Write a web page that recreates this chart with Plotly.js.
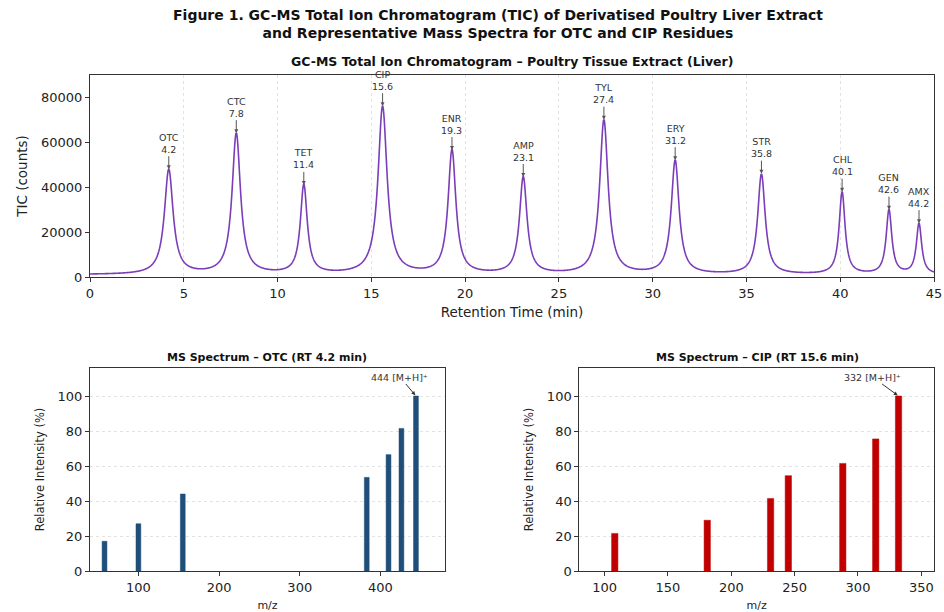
<!DOCTYPE html>
<html>
<head>
<meta charset="utf-8">
<script src="https://cdn.plot.ly/plotly-3.0.1.min.js"></script>
<style>html,body{margin:0;padding:0;background:#fff}#chart{width:944px;height:612px}</style>
</head>
<body>
<div id="chart"></div>
<script>
// ---- TIC peak table ----
var peakNames = ["OTC","CTC","TET","CIP","ENR","AMP","TYL","ERY","STR","CHL","GEN","AMX"];
var peakRT    = [4.2, 7.8, 11.4, 15.6, 19.3, 23.1, 27.4, 31.2, 35.8, 40.1, 42.6, 44.2];
var peakApex  = [47500, 63500, 40500, 75500, 56000, 44000, 69500, 51500, 45500, 37500, 29500, 23500];
var peakHalfWidth = [0.28, 0.27, 0.22, 0.29, 0.25, 0.24, 0.27, 0.25, 0.24, 0.19, 0.18, 0.17];
var baselineCounts = 1000;

// ---- MS spectrum OTC (RT 4.2 min) ----
var otcMz  = [58, 100, 155, 383, 410, 426, 444];
var otcInt = [17, 27, 44, 53.5, 66.5, 81.5, 100];

// ---- MS spectrum CIP (RT 15.6 min) ----
var cipMz  = [108, 181, 231, 245, 288, 314, 332];
var cipInt = [21.5, 29, 41.5, 54.5, 61.5, 75.5, 100];

// Build the TIC trace from the peak table (Lorentzian peak shape)
var ticX = [], ticY = [];
for (var t = 0; t <= 45.0001; t += 0.02) {
  var v = baselineCounts;
  for (var i = 0; i < peakRT.length; i++) {
    var d = (t - peakRT[i]) / peakHalfWidth[i];
    v += (peakApex[i] - baselineCounts) / (1 + d * d);
  }
  ticX.push(+t.toFixed(2)); ticY.push(v);
}

var W = 944, H = 612;
function px(x){ return x / W; }
function py(y){ return 1 - y / H; }

var FONT = "DejaVu Sans, Liberation Sans, sans-serif";
var axisCommon = {
  showline: true, linecolor: "#333", linewidth: 1, mirror: true,
  ticks: "outside", ticklen: 4, tickcolor: "#333", tickwidth: 1,
  tickfont: {family: FONT, size: 13, color: "#222"},
  zeroline: false
};
var GRID = "#e3e3e3";

var traces = [
  {x: ticX, y: ticY, type: "scatter", mode: "lines", xaxis: "x", yaxis: "y",
   line: {color: "#7B3DB8", width: 1.6, simplify: false}, hoverinfo: "skip", showlegend: false},
  {x: otcMz, y: otcInt, type: "bar", xaxis: "x2", yaxis: "y2", width: 6,
   marker: {color: "#1F4E79", line: {color: "#1F4E79", width: 0.5}}, showlegend: false},
  {x: cipMz, y: cipInt, type: "bar", xaxis: "x3", yaxis: "y3", width: 5,
   marker: {color: "#C00000", line: {color: "#C00000", width: 0.5}}, showlegend: false}
];

var annotations = [];
for (var i = 0; i < peakNames.length; i++) {
  annotations.push({
    x: peakRT[i], y: peakApex[i], xref: "x", yref: "y",
    text: peakNames[i] + "<br>" + peakRT[i].toFixed(1),
    showarrow: true, ax: 0, ay: -27, arrowhead: 2, arrowsize: 0.8, arrowwidth: 1,
    arrowcolor: "#555", standoff: 1,
    font: {family: FONT, size: 9.5, color: "#333"}
  });
}
annotations.push({
  x: otcMz[otcMz.length-1], y: otcInt[otcInt.length-1], xref: "x2", yref: "y2",
  text: otcMz[otcMz.length-1] + " [M+H]⁺", showarrow: true, ax: -16, ay: -19,
  arrowhead: 2, arrowsize: 0.8, arrowwidth: 1, arrowcolor: "#333", standoff: 1,
  font: {family: FONT, size: 9.5, color: "#333"}
});
annotations.push({
  x: cipMz[cipMz.length-1], y: cipInt[cipInt.length-1], xref: "x3", yref: "y3",
  text: cipMz[cipMz.length-1] + " [M+H]⁺", showarrow: true, ax: -26, ay: -19,
  arrowhead: 2, arrowsize: 0.8, arrowwidth: 1, arrowcolor: "#333", standoff: 1,
  font: {family: FONT, size: 9.5, color: "#333"}
});
// subplot titles
annotations.push({text: "<b>GC-MS Total Ion Chromatogram – Poultry Tissue Extract (Liver)</b>",
  xref: "paper", yref: "paper", x: px(512), y: py(62), xanchor: "center", yanchor: "middle",
  showarrow: false, font: {family: FONT, size: 12.5, color: "#111"}});
annotations.push({text: "<b>MS Spectrum – OTC (RT 4.2 min)</b>",
  xref: "paper", yref: "paper", x: px(267), y: py(357), xanchor: "center", yanchor: "middle",
  showarrow: false, font: {family: FONT, size: 11, color: "#111"}});
annotations.push({text: "<b>MS Spectrum – CIP (RT 15.6 min)</b>",
  xref: "paper", yref: "paper", x: px(757), y: py(357), xanchor: "center", yanchor: "middle",
  showarrow: false, font: {family: FONT, size: 11, color: "#111"}});

var layout = {
  width: W, height: H,
  margin: {l: 0, r: 0, t: 0, b: 0},
  paper_bgcolor: "#fff", plot_bgcolor: "#fff",
  showlegend: false,
  bargap: 0,
  title: {text: "<b>Figure 1. GC-MS Total Ion Chromatogram (TIC) of Derivatised Poultry Liver Extract<br>and Representative Mass Spectra for OTC and CIP Residues</b>",
    x: px(498), xanchor: "center", y: py(20), yanchor: "middle",
    font: {family: FONT, size: 14, color: "#111"}},
  xaxis: Object.assign({}, axisCommon, {
    domain: [px(90), px(934)], anchor: "y", range: [0, 45], dtick: 5,
    showgrid: true, gridcolor: GRID, griddash: "dot", gridwidth: 1,
    title: {text: "Retention Time (min)", font: {family: FONT, size: 13.5, color: "#222"}, standoff: 7}
  }),
  yaxis: Object.assign({}, axisCommon, {
    domain: [py(277), py(75)], anchor: "x", range: [0, 89800], dtick: 20000,
    tickformat: "d", showgrid: false,
    title: {text: "TIC (counts)", font: {family: FONT, size: 13.5, color: "#222"}, standoff: 10}
  }),
  xaxis2: Object.assign({}, axisCommon, {
    domain: [px(90), px(445)], anchor: "y2", range: [40, 480], dtick: 100,
    showgrid: false,
    title: {text: "m/z", font: {family: FONT, size: 11, color: "#222"}, standoff: 7}
  }),
  yaxis2: Object.assign({}, axisCommon, {
    domain: [py(571), py(368)], anchor: "x2", range: [0, 116], dtick: 20,
    showgrid: true, gridcolor: GRID, griddash: "dot", gridwidth: 1,
    title: {text: "Relative Intensity (%)", font: {family: FONT, size: 11.5, color: "#222"}, standoff: 10}
  }),
  xaxis3: Object.assign({}, axisCommon, {
    domain: [px(579.3), px(934)], anchor: "y3", range: [80, 360], dtick: 50,
    showgrid: false,
    title: {text: "m/z", font: {family: FONT, size: 11, color: "#222"}, standoff: 7}
  }),
  yaxis3: Object.assign({}, axisCommon, {
    domain: [py(571), py(368)], anchor: "x3", range: [0, 116], dtick: 20,
    showgrid: true, gridcolor: GRID, griddash: "dot", gridwidth: 1,
    title: {text: "Relative Intensity (%)", font: {family: FONT, size: 11.5, color: "#222"}, standoff: 10}
  }),
  annotations: annotations
};

Plotly.newPlot("chart", traces, layout, {displayModeBar: false, staticPlot: true});
</script>
</body>
</html>
